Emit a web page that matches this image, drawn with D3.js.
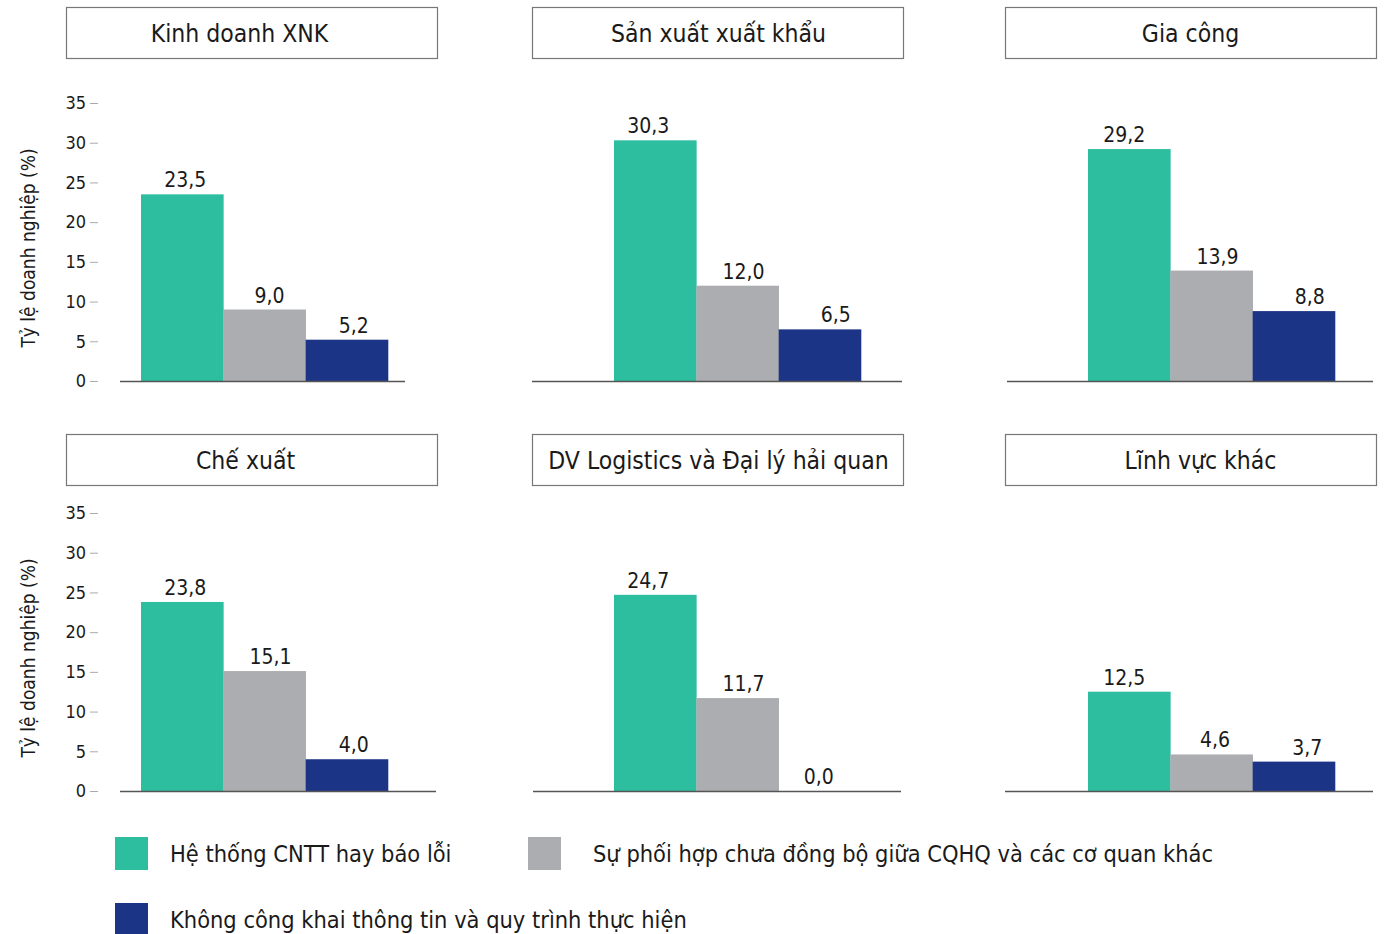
<!DOCTYPE html>
<html>
<head>
<meta charset="utf-8">
<script src="https://cdn.jsdelivr.net/npm/d3@7"></script>
<style>
  html, body { margin: 0; padding: 0; background: #fff; }
  svg text { font-family: "DejaVu Sans Condensed", "Liberation Sans Narrow", "Open Sans", sans-serif; fill: #1a1a1a; }
</style>
</head>
<body>
<svg id="chart" width="1385" height="934"></svg>
<script>
// Sectors, one panel each
const sectors = [
  "Kinh doanh XNK",
  "Sản xuất xuất khẩu",
  "Gia công",
  "Chế xuất",
  "DV Logistics và Đại lý hải quan",
  "Lĩnh vực khác"
];

// Issue series (share of firms, %)
const seriesNames = [
  "Hệ thống CNTT hay báo lỗi",
  "Sự phối hợp chưa đồng bộ giữa CQHQ và các cơ quan khác",
  "Không công khai thông tin và quy trình thực hiện"
];
const itErrors      = [23.5, 30.3, 29.2, 23.8, 24.7, 12.5];
const coordination  = [9.0, 12.0, 13.9, 15.1, 11.7, 4.6];
const transparency  = [5.2, 6.5, 8.8, 4.0, 0.0, 3.7];

const yTicks = [0, 5, 10, 15, 20, 25, 30, 35];
const yAxisTitle = "Tỷ lệ doanh nghiệp (%)";

const colors = ["#2cbe9e", "#acadb0", "#1c3486"];
const seriesValues = [itErrors, coordination, transparency];

const svg = d3.select("#chart");

// Panel layout: title box, bar group start, baseline extent, zero line
const boxLeft = [66, 532, 1005];
const boxW = 371, boxH = 51;
const barStart = [141, 614, 1088];
const groupW = 247;
const rows = [
  { boxTop: 7,   zeroY: 381, baseline: [[120, 405], [532, 902], [1007, 1373]] },
  { boxTop: 434, zeroY: 791, baseline: [[120, 436], [533, 901], [1005, 1373]] }
];
const plotH = 278; // height for 35 units
const titleDx = [-12, 1, 0, -6, 1, 10];
const labelDx = [
  [3, 5, 7], [-7, 6, 16], [-5, 6, 16],
  [3, 6, 7], [-7, 6, -1], [-5, 3.5, 13.5]
];

const fmt = v => d3.format(".1f")(v).replace(".", ",");

sectors.forEach((name, i) => {
  const r = Math.floor(i / 3), c = i % 3;
  const row = rows[r];
  const g = svg.append("g");

  // Title box
  g.append("rect")
    .attr("x", boxLeft[c] + 0.5).attr("y", row.boxTop + 0.5)
    .attr("width", boxW).attr("height", boxH)
    .attr("fill", "#fff").attr("stroke", "#777").attr("stroke-width", 1.2);
  g.append("text")
    .attr("x", boxLeft[c] + boxW / 2 + titleDx[i])
    .attr("y", row.boxTop + boxH / 2 + 9)
    .attr("text-anchor", "middle")
    .attr("font-size", 24.5)
    .text(name);

  const y = d3.scaleLinear().domain([0, 35]).range([row.zeroY, row.zeroY - plotH]);
  const x = d3.scaleBand().domain(d3.range(3)).range([barStart[c], barStart[c] + groupW]).padding(0);

  const vals = seriesValues.map(s => s[i]);

  g.selectAll("rect.bar").data(vals).join("rect")
    .attr("class", "bar")
    .attr("x", (d, k) => x(k))
    .attr("y", d => y(d))
    .attr("width", x.bandwidth() + 0.3)
    .attr("height", d => y(0) - y(d))
    .attr("fill", (d, k) => colors[k]);

  g.selectAll("text.val").data(vals).join("text")
    .attr("class", "val")
    .attr("x", (d, k) => x(k) + x.bandwidth() / 2 + labelDx[i][k])
    .attr("y", d => y(d) - 7)
    .attr("text-anchor", "middle")
    .attr("font-size", 21)
    .text(d => fmt(d));

  // Baseline
  g.append("line")
    .attr("x1", row.baseline[c][0]).attr("x2", row.baseline[c][1])
    .attr("y1", row.zeroY + 0.5).attr("y2", row.zeroY + 0.5)
    .attr("stroke", "#555").attr("stroke-width", 1.5);

  // Y axis on the left column only
  if (c === 0) {
    const ax = g.append("g")
      .attr("transform", `translate(98,0)`)
      .call(d3.axisLeft(y).tickValues(yTicks).tickSize(8).tickPadding(4));
    ax.select(".domain").remove();
    ax.selectAll(".tick line").attr("stroke", "#aaa");
    ax.selectAll(".tick text")
      .attr("font-size", 18)
      .attr("fill", "#1a1a1a")
      .style("font-family", '"DejaVu Sans Condensed", "Liberation Sans Narrow", sans-serif');

    g.append("text")
      .attr("transform", `translate(35,${row.zeroY - plotH / 2 + 6}) rotate(-90)`)
      .attr("text-anchor", "middle")
      .attr("font-size", 19)
      .text(yAxisTitle);
  }
});

// Legend
const legendItems = [
  { sq: [115, 837], tx: 170 },
  { sq: [528, 837], tx: 593 },
  { sq: [115, 903], tx: 170 }
];
const lg = svg.append("g");
seriesNames.forEach((n, k) => {
  const p = legendItems[k];
  lg.append("rect")
    .attr("x", p.sq[0]).attr("y", p.sq[1])
    .attr("width", 33).attr("height", 33)
    .attr("fill", colors[k]);
  lg.append("text")
    .attr("x", p.tx).attr("y", p.sq[1] + 25)
    .attr("font-size", 23.4)
    .text(n);
});
</script>
</body>
</html>
